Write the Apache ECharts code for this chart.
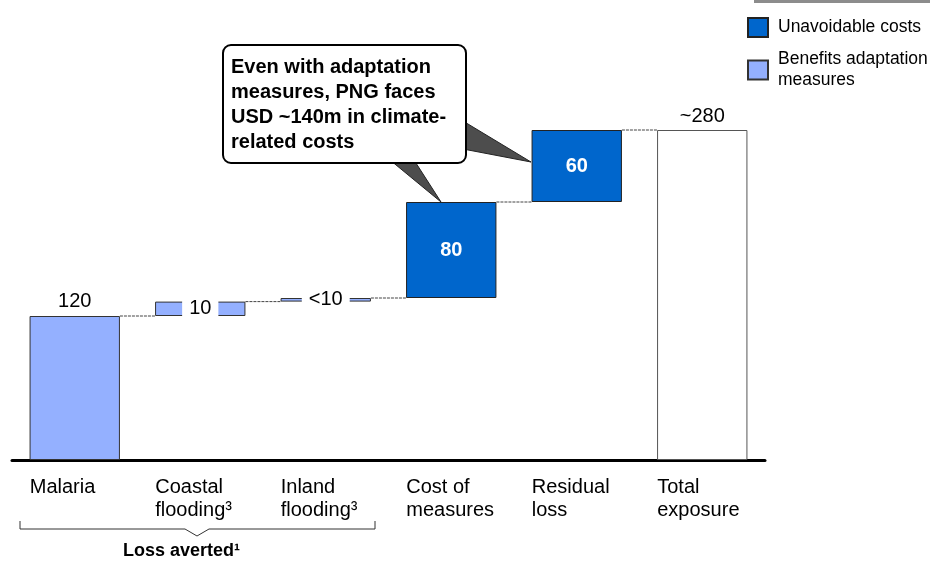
<!DOCTYPE html>
<html><head><meta charset="utf-8">
<script src="https://cdn.jsdelivr.net/npm/echarts@6/dist/echarts.min.js"></script>
<style>html,body{margin:0;padding:0;background:#fff}#c{width:930px;height:563px}</style>
</head><body><div id="c"></div>
<script>
const categories = ['Malaria', 'Coastal\nflooding³', 'Inland\nflooding³', 'Cost of\nmeasures', 'Residual\nloss', 'Total\nexposure'];
const benefits = [120, 12, 3, '-', '-', '-'];
const unavoidable = ['-', '-', '-', 80, 60, '-'];
const total = ['-', '-', '-', '-', '-', 275];
const valueLabels = ['120', '10', '<10', '80', '60', '~280'];
const legendNames = ['Unavoidable costs', 'Benefits adaptation measures'];

const FONT = '"Liberation Sans", Arial, sans-serif';
const LIGHT = '#94B0FF';
const DARK = '#0066CC';

// cumulative bases for the waterfall
const increments = categories.map((c, i) => {
  const v = [benefits[i], unavoidable[i]].find(x => typeof x === 'number');
  return typeof v === 'number' ? v : 0;
});
const base = [];
let run = 0;
categories.forEach((c, i) => {
  if (typeof total[i] === 'number') { base.push(0); }
  else { base.push(run); run += increments[i]; }
});
const tops = categories.map((c, i) => typeof total[i] === 'number' ? total[i] : base[i] + increments[i]);

const benefitData = benefits.map((v, i) => {
  if (v === '-') return '-';
  const lbl = i === 0
    ? { show: true, position: 'top', distance: 5, formatter: valueLabels[i], fontSize: 20, color: '#000' }
    : { show: true, position: 'inside', formatter: valueLabels[i], fontSize: 20, color: '#000',
        backgroundColor: '#fff', padding: [1, 7, 0, 7] };
  return { value: v, label: lbl };
});
const unavoidData = unavoidable.map((v, i) => v === '-' ? '-' : {
  value: v, label: { show: true, position: 'inside', formatter: valueLabels[i], fontSize: 20, fontWeight: 'bold', color: '#fff' }
});
const totalData = total.map((v, i) => v === '-' ? '-' : {
  value: v, label: { show: true, position: 'top', distance: 4, formatter: valueLabels[i], fontSize: 20, color: '#000' }
});
const connectorData = categories.slice(0, -1).map((c, i) => [i, tops[i]]);

const chart = echarts.init(document.getElementById('c'));
chart.setOption({
  animation: false,
  textStyle: { fontFamily: FONT },
  grid: { left: 12, right: 165, top: 100, bottom: 103 },
  legend: {
    data: legendNames,
    orient: 'vertical',
    left: 747, top: 17, padding: 0,
    itemWidth: 20, itemHeight: 19, itemGap: 11,
    icon: 'rect',
    formatter: n => n === 'Benefits adaptation measures' ? 'Benefits adaptation\nmeasures' : n,
    textStyle: { fontSize: 17.5, color: '#000', lineHeight: 21, fontFamily: FONT, padding: [0, 0, 0, 5] },
    selectedMode: false
  },
  xAxis: {
    type: 'category',
    data: categories,
    axisLine: { lineStyle: { color: '#000', width: 3 } },
    axisTick: { show: false },
    axisLabel: {
      interval: 0, margin: 16, width: 90, align: 'center',
      formatter: v => v.split('\n').map(s => '{l|' + s + '}').join('\n'),
      rich: { l: { align: 'left', fontSize: 20, lineHeight: 23, color: '#000', fontFamily: FONT } }
    }
  },
  yAxis: { type: 'value', min: 0, max: 300, show: false },
  series: [
    { name: 'base', type: 'bar', stack: 'w', barWidth: '72%', silent: true,
      itemStyle: { color: 'transparent' }, data: base },
    { name: 'Benefits adaptation measures', type: 'bar', stack: 'w', barWidth: '72%',
      itemStyle: { color: LIGHT, borderColor: '#333', borderWidth: 1 }, data: benefitData },
    { name: 'Unavoidable costs', type: 'bar', stack: 'w', barWidth: '72%',
      itemStyle: { color: DARK, borderColor: '#222', borderWidth: 1 }, data: unavoidData },
    { name: 'Total exposure', type: 'bar', stack: 'w', barWidth: '72%',
      itemStyle: { color: '#fff', borderColor: '#555', borderWidth: 1 }, data: totalData },
    { name: 'connectors', type: 'custom', silent: true, z: 1,
      renderItem: (params, api) => {
        const i = api.value(0), v = api.value(1);
        const p = api.coord([i, v]), q = api.coord([i + 1, v]);
        const half = api.size([1, 0])[0] * 0.36;
        return { type: 'line', shape: { x1: p[0] + half, y1: p[1], x2: q[0] - half, y2: p[1] },
          style: { stroke: '#444', lineWidth: 1, lineDash: [3, 1] } };
      },
      data: connectorData }
  ],
  graphic: [
    { type: 'rect', shape: { x: 754, y: -2, width: 180, height: 5 }, style: { fill: '#8c8c8c' } },
    { type: 'polygon', z: 10, shape: { points: [[390, 160], [414, 160], [441, 202]] }, style: { fill: '#4d4d4d', stroke: '#222', lineWidth: 1 } },
    { type: 'polygon', z: 10, shape: { points: [[463, 121], [463, 149], [531, 162]] }, style: { fill: '#4d4d4d', stroke: '#222', lineWidth: 1 } },
    { type: 'rect', z: 11, shape: { x: 223, y: 45, width: 243, height: 118, r: 8 }, style: { fill: '#fff', stroke: '#000', lineWidth: 2 } },
    { type: 'text', z: 12, left: 231, top: 55,
      style: { text: 'Even with adaptation\nmeasures, PNG faces\nUSD ~140m in climate-\nrelated costs', font: 'bold 20px ' + FONT, lineHeight: 25, fill: '#000' } },
    { type: 'polyline', shape: { points: [[20, 521], [20, 529], [185, 529], [197, 536], [209, 529], [375, 529], [375, 521]] }, style: { stroke: '#333', lineWidth: 1, fill: null } },
    { type: 'text', left: 123, top: 542, style: { text: 'Loss averted¹', font: 'bold 18px ' + FONT, fill: '#000' } }
  ]
});
</script>
</body></html>
